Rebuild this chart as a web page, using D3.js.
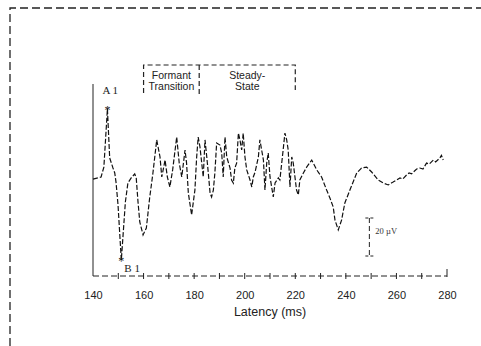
<!DOCTYPE html>
<html>
<head>
<meta charset="utf-8">
<script src="https://cdn.jsdelivr.net/npm/d3@7"></script>
<style>
  body { margin: 0; background: #fff; }
  svg { display: block; }
</style>
</head>
<body>
<div id="chart"></div>
<script>
// Latency (ms) and amplitude (µV)
const latency = [140, 143.2, 144.3, 145.7, 146.6, 147.9, 148.6, 149.1, 149.9, 150.6, 151.2, 151.9, 152.8, 153.8, 155.1, 156.5, 157.1, 157.8, 158.5, 159.8,
  161.1, 162.4, 163.7, 165.2, 166.5, 167.2, 168.5, 169.4, 170.4, 171.5, 173.1, 174.1, 175.1, 176.4, 177.0, 177.7, 179.0, 180.3, 181.0, 181.6,
  182.3, 183.0, 183.6, 184.3, 185.0, 185.6, 186.3, 186.9, 187.6, 188.2, 188.9, 190.2, 190.9, 191.5, 192.2, 192.9, 194.2, 194.8, 195.5, 196.1,
  196.8, 197.5, 198.1, 198.8, 199.4, 200.1, 200.8, 202.1, 202.8, 203.4, 204.1, 205.4, 206.0, 206.7, 207.4, 208.0, 208.7, 209.3, 210.0, 211.3,
  212.0, 213.3, 213.9, 215.2, 215.9, 216.6, 217.2, 217.9, 218.6, 219.2, 220.5, 221.2, 221.8, 223.2, 224.5, 226.5, 228.5, 230.4, 232.4, 233.7,
  235.0, 235.7, 237.0, 238.3, 239.6, 241.6, 244.3, 246.2, 248.2, 250.2, 252.8, 254.8, 256.8, 258.0, 258.7, 260.0, 261.4, 262.5, 264.0, 265.0,
  266.0, 266.7, 268.0, 269.3, 270.5, 271.9, 273.0, 274.6, 275.5, 277.2, 277.8, 278.5];
const amplitude = [0.5, 1.6, 6.8, 37.4, 11.6, 6.3, 3.7, -1.1, -13.2, -28.9, -42.1, -28.9, -11.6, -1.6, 1.1, 3.2, 1.1, -11.6, -22.1, -28.9,
  -25.3, -9.5, 3.7, 21.1, 12.1, 1.6, 10.5, 1.6, -3.7, 5.3, 22.6, 8.9, 1.6, 15.8, 8.9, -6.8, -18.4, -5.3, 12.1, 22.6,
  17.4, 8.9, 1.6, 21.1, 12.1, 3.7, -6.8, -8.9, -5.3, 3.7, 19.5, 18.4, 14.2, 1.6, 22.6, 12.1, 6.3, 0, -1.6, 6.3,
  8.9, 24.7, 21.1, 15.8, 24.7, 12.1, 5.3, 0, -3.7, 1.6, 4.2, 12.1, 21.1, 15.8, 10.5, -5.3, 8.9, 14.2, 1.6, -8.9,
  -1.6, 1.1, 0, 15.8, 24.7, 21.1, 15.8, -3.7, 12.1, 8.9, -5.3, -7.9, 0, 3.7, 6.8, 10.5, 5.3, 1.6, -5.3, -9.5,
  -14.2, -21.1, -26.3, -21.1, -12.1, -5.3, 3.7, 6.3, 6.8, 4.2, 0, -1.6, -2.6, -1.6, -1.1, 0, 1.1, 0.5, 2.6, 3.7,
  3.2, 4.2, 5.8, 6.3, 5.8, 8.9, 8.4, 10.5, 9.5, 11.6, 13.0, 10.5];

const xTicks = [140, 160, 180, 200, 220, 240, 260, 280];
const minorTicks = [150, 160, 170, 180, 190, 200, 210, 220, 230, 240, 250, 260, 270];

// phases over the trace
const phaseNames = [["Formant", "Transition"], ["Steady-", "State"]];
const phaseEdges = [160, 182, 220];

// peak markers
const peakNames = ["A1", "B1"];
const peakIndex = [3, 10];

// calibration bar
const calLatency = 249.3;
const calRange = [-20, -40];

const width = 481, height = 346;

const svg = d3.select("#chart").append("svg")
  .attr("width", width)
  .attr("height", height);

const x = d3.scaleLinear().domain([140, 280]).range([93, 447]);
const y = d3.scaleLinear().domain([-50, 50]).range([275, 85]);
const axisY = 276;

// outer frame (dashed, open at right/bottom)
svg.append("path")
  .attr("d", `M10,346 L10,8 L481,8`)
  .attr("fill", "none")
  .attr("stroke", "#222")
  .attr("stroke-width", 1.3)
  .attr("stroke-dasharray", "8,4");

// y axis line
svg.append("line")
  .attr("x1", x(140)).attr("x2", x(140))
  .attr("y1", 84).attr("y2", axisY)
  .attr("stroke", "#222");

// x axis: dashed line with crossing ticks
svg.append("line")
  .attr("x1", x(140)).attr("x2", x(280))
  .attr("y1", axisY).attr("y2", axisY)
  .attr("stroke", "#222")
  .attr("stroke-dasharray", "6,3");

svg.selectAll(".minor")
  .data(minorTicks)
  .enter().append("line")
  .attr("x1", (d) => x(d)).attr("x2", (d) => x(d))
  .attr("y1", axisY - 3).attr("y2", axisY + 3)
  .attr("stroke", "#222");

svg.append("line")
  .attr("x1", x(280)).attr("x2", x(280))
  .attr("y1", axisY - 7).attr("y2", axisY + 1)
  .attr("stroke", "#222");

const xAxis = svg.append("g")
  .attr("transform", `translate(0,${axisY})`)
  .call(d3.axisBottom(x).tickValues(xTicks).tickSize(0).tickPadding(15));
xAxis.select(".domain").remove();
xAxis.selectAll("text")
  .style("font-family", "Liberation Sans, Arial, sans-serif")
  .style("font-size", "11px")
  .attr("fill", "#222");

svg.append("text")
  .attr("x", x(210))
  .attr("y", 316)
  .attr("text-anchor", "middle")
  .style("font-family", "Liberation Sans, Arial, sans-serif")
  .style("font-size", "12.5px")
  .attr("fill", "#222")
  .text("Latency (ms)");

// waveform
const wave = latency.map((t, i) => ({ t: t, v: amplitude[i] }));
svg.append("path")
  .datum(wave)
  .attr("d", d3.line().x((d) => x(d.t)).y((d) => y(d.v)))
  .attr("fill", "none")
  .attr("stroke", "#111")
  .attr("stroke-width", 1.2)
  .attr("stroke-dasharray", "5,2");

// peak stars and labels
peakIndex.forEach((idx, i) => {
  const px = x(latency[idx]), py = y(amplitude[idx]);
  svg.append("text")
    .attr("x", px).attr("y", py + 5)
    .attr("text-anchor", "middle")
    .style("font-family", "Liberation Serif, Times New Roman, serif")
    .style("font-size", "12px")
    .attr("fill", "#111")
    .text("*");
  svg.append("text")
    .attr("x", i === 0 ? px - 5 : px + 3)
    .attr("y", i === 0 ? py - 15 : py + 12)
    .style("font-family", "Liberation Serif, Times New Roman, serif")
    .style("font-size", "11px")
    .attr("fill", "#222")
    .text(peakNames[i].split("").join(" "));
});

// phase brackets
const bracketTop = 65;
svg.append("path")
  .attr("d", `M${x(phaseEdges[0])},93 L${x(phaseEdges[0])},${bracketTop} L${x(phaseEdges[2])},${bracketTop} L${x(phaseEdges[2])},90`)
  .attr("fill", "none")
  .attr("stroke", "#222")
  .attr("stroke-width", 1.2)
  .attr("stroke-dasharray", "5,3");
svg.append("line")
  .attr("x1", x(phaseEdges[1])).attr("x2", x(phaseEdges[1]))
  .attr("y1", bracketTop).attr("y2", 94)
  .attr("stroke", "#222")
  .attr("stroke-width", 1.2)
  .attr("stroke-dasharray", "5,3");

phaseNames.forEach((lines, i) => {
  const cx = (x(phaseEdges[i]) + x(phaseEdges[i + 1])) / 2;
  lines.forEach((s, j) => {
    svg.append("text")
      .attr("x", cx)
      .attr("y", 79 + j * 11)
      .attr("text-anchor", "middle")
      .style("font-family", "Liberation Sans, Arial, sans-serif")
      .style("font-size", "10.5px")
      .attr("fill", "#222")
      .text(s);
  });
});

// calibration bar
const cx0 = x(calLatency);
svg.append("line")
  .attr("x1", cx0).attr("x2", cx0)
  .attr("y1", y(calRange[0])).attr("y2", y(calRange[1]))
  .attr("stroke", "#222")
  .attr("stroke-dasharray", "5,3");
[calRange[0], calRange[1]].forEach((v) => {
  svg.append("line")
    .attr("x1", cx0 - 4).attr("x2", cx0 + 4)
    .attr("y1", y(v)).attr("y2", y(v))
    .attr("stroke", "#222")
    .attr("stroke-dasharray", "3,2");
});
svg.append("text")
  .attr("x", cx0 + 6)
  .attr("y", (y(calRange[0]) + y(calRange[1])) / 2 - 3)
  .style("font-family", "Liberation Serif, Times New Roman, serif")
  .style("font-size", "8.5px")
  .attr("fill", "#333")
  .text("20 µV");
</script>
</body>
</html>
